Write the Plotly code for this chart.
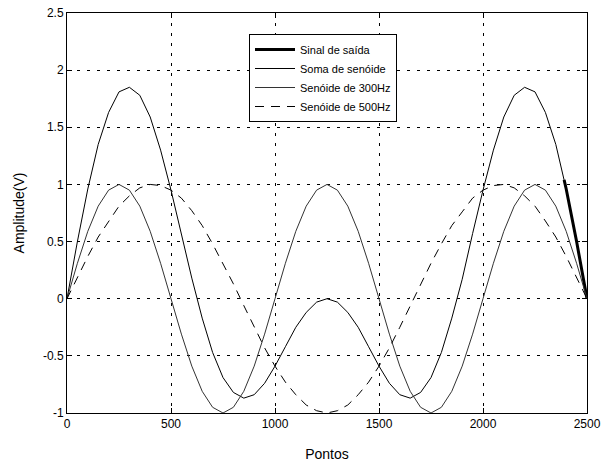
import plotly.graph_objects as go

pontos = [0, 50, 100, 150, 200, 250, 300, 350, 400, 450, 500, 550, 600, 650, 700, 750, 800, 850, 900, 950,
          1000, 1050, 1100, 1150, 1200, 1250, 1300, 1350, 1400, 1450, 1500, 1550, 1600, 1650, 1700, 1750,
          1800, 1850, 1900, 1950, 2000, 2050, 2100, 2150, 2200, 2250, 2300, 2350, 2400, 2450, 2500]

seno300 = [0, .31, .59, .81, .95, 1, .95, .81, .59, .31, 0, -.31, -.59, -.81, -.95, -1, -.95, -.81, -.59, -.31,
           0, .31, .59, .81, .95, 1, .95, .81, .59, .31, 0, -.31, -.59, -.81, -.95, -1,
           -.95, -.81, -.59, -.31, 0, .31, .59, .81, .95, 1, .95, .81, .59, .31, 0]

seno500 = [0, .19, .37, .54, .68, .81, .90, .97, 1.0, .99, .95, .88, .77, .64, .48, .31, .13, -.06, -.25, -.43,
           -.59, -.73, -.84, -.93, -.98, -1.0, -.98, -.93, -.84, -.73, -.59, -.43, -.25, -.06, .13, .31,
           .48, .64, .76, .88, .95, .99, 1.0, .97, .90, .81, .68, .54, .37, .19, 0]

soma = [0, .50, .96, 1.35, 1.63, 1.81, 1.85, 1.78, 1.59, 1.30, .95, .57, .18, -.17, -.47, -.69, -.82, -.87, -.84, -.74,
        -.59, -.42, -.25, -.12, -.03, 0, -.03, -.12, -.25, -.42, -.59, -.74, -.84, -.87, -.82, -.69,
        -.47, -.17, .17, .57, .95, 1.30, 1.59, 1.78, 1.85, 1.81, 1.63, 1.35, .96, .50, 0]

saida_x = [2390, 2400, 2450, 2500]
saida_y = [1.04, 0.96, 0.50, 0]

x_ticks = [0, 500, 1000, 1500, 2000, 2500]
y_ticks = [-1, -0.5, 0, 0.5, 1, 1.5, 2, 2.5]
y_ticklabels = ["-1", "-0.5", "0", "0.5", "1", "1.5", "2", "2.5"]

fig = go.Figure()
fig.add_trace(go.Scatter(x=saida_x, y=saida_y, mode="lines", name="Sinal de saída",
                         line=dict(color="black", width=3)))
fig.add_trace(go.Scatter(x=pontos, y=soma, mode="lines", name="Soma de senóide",
                         line=dict(color="black", width=1)))
fig.add_trace(go.Scatter(x=pontos, y=seno300, mode="lines", name="Senóide de 300Hz",
                         line=dict(color="#333333", width=1)))
fig.add_trace(go.Scatter(x=pontos, y=seno500, mode="lines", name="Senóide de 500Hz",
                         line=dict(color="black", width=1, dash="9px,7px")))

axis_common = dict(showline=True, linecolor="black", linewidth=1, mirror="allticks",
                   ticks="inside", ticklen=5, tickcolor="black", automargin=False,
                   showgrid=True, gridcolor="black", gridwidth=1, griddash="3px,7px",
                   zeroline=False, tickfont=dict(family="Liberation Sans, Arial", size=12, color="black"))

fig.update_layout(
    width=602, height=465,
    margin=dict(l=67, r=15, t=13, b=52, autoexpand=False),
    paper_bgcolor="white", plot_bgcolor="white",
    font=dict(family="Liberation Sans, Arial", size=12, color="black"),
    showlegend=True,
    legend=dict(x=0.35, y=0.9475, xanchor="left", yanchor="top",
                bordercolor="black", borderwidth=1, bgcolor="white",
                font=dict(size=11), itemwidth=40, tracegroupgap=0),
    xaxis=dict(range=[0, 2500], tickvals=x_ticks, ticktext=[str(v) for v in x_ticks],
               title=dict(text="Pontos", standoff=18), **axis_common),
    yaxis=dict(range=[-1, 2.5], tickvals=y_ticks, ticktext=y_ticklabels,
               title=dict(text="Amplitude(V)", standoff=15), **axis_common),
)

fig.write_html("out.html")
